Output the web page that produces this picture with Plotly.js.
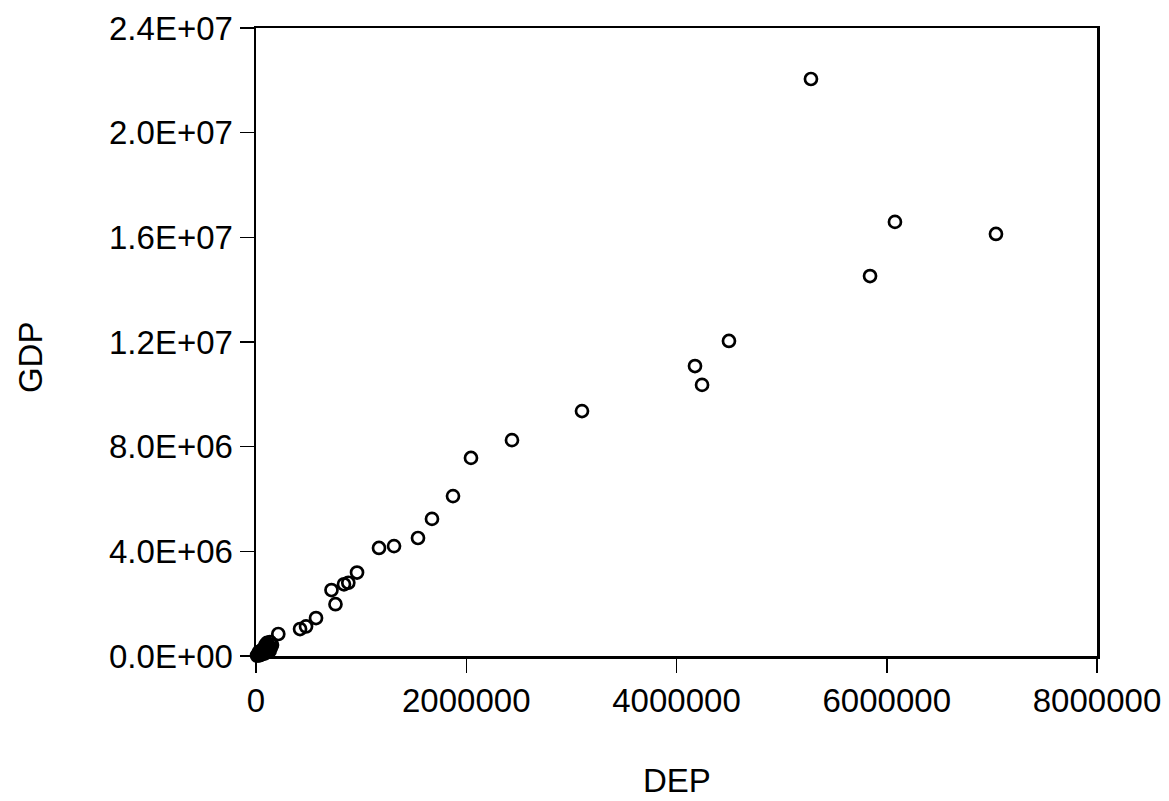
<!DOCTYPE html>
<html>
<head>
<meta charset="utf-8">
<script src="https://cdn.plot.ly/plotly-3.0.1.min.js"></script>
<style>html,body{margin:0;padding:0;background:#fff;}#chart{width:1169px;height:801px;}</style>
</head>
<body>
<div id="chart"></div>
<script>
const dep = [5279000, 6078000, 7039000, 5841000, 4499000, 4176000, 4243000, 3101000, 2435000, 2045000,
             1874000, 1674000, 1541000, 1313000, 1170000, 961000, 878000, 837000, 718000, 756000,
             571000, 476000, 419000, 212000, 133000, 114000, 95000, 76000, 57000, 38000,
             19000, 10000, 152000, 124000, 95000, 67000, 38000, 105000, 85000, 48000,
             140000, 110000, 80000, 60000, 30000, 25000, 130000, 90000];
const gdp = [22050000, 16590000, 16130000, 14520000, 12040000, 11080000, 10360000, 9360000, 8250000, 7570000,
             6110000, 5240000, 4510000, 4200000, 4130000, 3190000, 2800000, 2740000, 2520000, 1980000,
             1450000, 1130000, 1030000, 840000, 535000, 420000, 340000, 270000, 190000, 115000,
             57000, 20000, 420000, 270000, 190000, 115000, 40000, 500000, 230000, 60000,
             320000, 150000, 90000, 240000, 160000, 20000, 200000, 420000];
const xTickVals = [0, 2000000, 4000000, 6000000, 8000000];
const xTickText = ['0', '2000000', '4000000', '6000000', '8000000'];
const yTickVals = [0, 4000000, 8000000, 12000000, 16000000, 20000000, 24000000];
const yTickText = ['0.0E+00', '4.0E+06', '8.0E+06', '1.2E+07', '1.6E+07', '2.0E+07', '2.4E+07'];
const xTitle = 'DEP';
const yTitle = 'GDP';

const font = {family: '"Liberation Sans", Arial, sans-serif', size: 33, color: '#000'};

Plotly.newPlot('chart', [{
  x: dep, y: gdp, type: 'scatter', mode: 'markers',
  marker: {symbol: 'circle-open', size: 12, color: '#000', line: {width: 2.7, color: '#000'}},
  cliponaxis: false, hoverinfo: 'none'
}], {
  width: 1169, height: 801,
  margin: {l: 256, r: 72, t: 28, b: 145},
  paper_bgcolor: '#fff', plot_bgcolor: '#fff',
  font: font,
  showlegend: false,
  xaxis: {
    range: [0, 8000000], tickvals: xTickVals, ticktext: xTickText,
    showgrid: false, zeroline: false, showline: true, mirror: true,
    linecolor: '#000', linewidth: 2.5, ticks: 'outside', ticklen: 14, tickwidth: 1.5, tickcolor: '#000',
    tickfont: font, fixedrange: true
  },
  yaxis: {
    range: [0, 24000000], tickvals: yTickVals, ticktext: yTickText,
    showgrid: false, zeroline: false, showline: true, mirror: true,
    linecolor: '#000', linewidth: 2.5, ticks: 'outside', ticklen: 14, tickwidth: 1.5, tickcolor: '#000',
    tickfont: font, fixedrange: true
  },
  annotations: [
    {text: xTitle, xref: 'paper', yref: 'paper', x: 0.5006, y: -0.198, xanchor: 'center', yanchor: 'middle', showarrow: false, font: font},
    {text: yTitle, xref: 'paper', yref: 'paper', x: -0.2687, y: 0.476, xanchor: 'center', yanchor: 'middle', showarrow: false, textangle: -90, font: font}
  ]
}, {displayModeBar: false, staticPlot: true});
</script>
</body>
</html>
